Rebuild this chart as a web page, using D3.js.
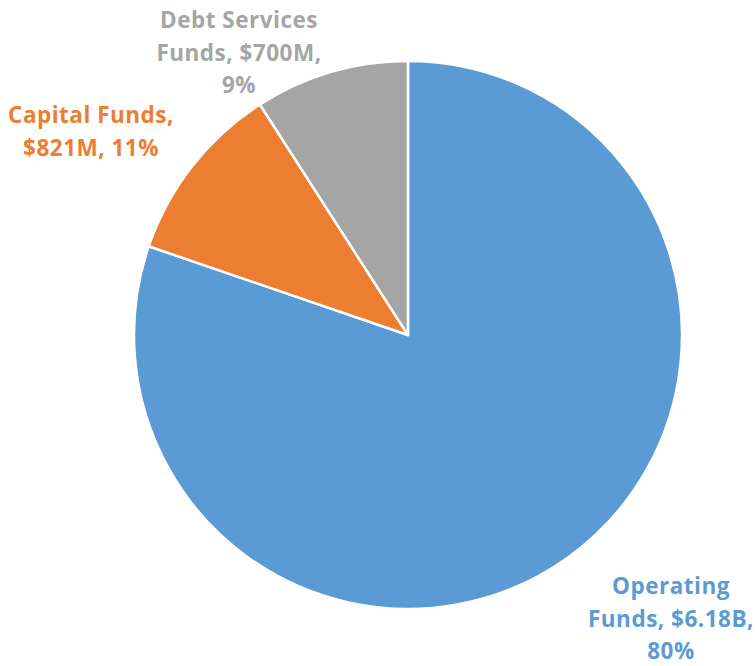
<!DOCTYPE html>
<html>
<head>
<meta charset="utf-8">
<script src="https://cdn.jsdelivr.net/npm/d3@7/dist/d3.min.js"></script>
<style>
  html, body { margin: 0; padding: 0; background: #fff; }
  svg { display: block; }
</style>
</head>
<body>
<svg id="chart" width="755" height="666"></svg>
<script>
// Fund categories and amounts (millions of dollars)
const categories = ["Operating Funds", "Capital Funds", "Debt Services Funds"];
const amounts = [6180, 821, 700];
const amountLabels = ["$6.18B", "$821M", "$700M"];
const percentLabels = ["80%", "11%", "9%"];
const colors = ["#5B9BD5", "#ED7D31", "#A5A5A5"];

// Label lines as laid out around the pie
const labelLines = [
  ["Operating", "Funds, $6.18B,", "80%"],
  ["Capital Funds,", "$821M, 11%"],
  ["Debt Services", "Funds, $700M,", "9%"]
];
const labelAnchors = [
  { x: 671, y: 594 },
  { x: 91, y: 123 },
  { x: 239, y: 28 }
];

const svg = d3.select("#chart");
const cx = 408, cy = 335, radius = 274;

const pie = d3.pie().sort(null).value(d => d.value);
const data = categories.map((c, i) => ({ name: c, value: amounts[i], color: colors[i] }));
const arcs = pie(data);
const arc = d3.arc().innerRadius(0).outerRadius(radius);

const g = svg.append("g").attr("transform", `translate(${cx},${cy})`);
g.selectAll("path")
  .data(arcs)
  .join("path")
  .attr("d", arc)
  .attr("fill", d => d.data.color)
  .attr("stroke", "#fff")
  .attr("stroke-width", 2.5)
  .attr("stroke-linejoin", "round");

const lineH = 32.5;
labelLines.forEach((lines, i) => {
  const t = svg.append("text")
    .attr("x", labelAnchors[i].x)
    .attr("y", labelAnchors[i].y)
    .attr("text-anchor", "middle")
    .attr("fill", colors[i])
    .style("font-family", "'Open Sans', 'Noto Sans', sans-serif")
    .style("font-weight", 700)
    .style("font-size", "22.5px")
    .style("letter-spacing", "0.5px");
  lines.forEach((ln, j) => {
    t.append("tspan")
      .attr("x", labelAnchors[i].x)
      .attr("y", labelAnchors[i].y + j * lineH)
      .text(ln);
  });
});
</script>
</body>
</html>
